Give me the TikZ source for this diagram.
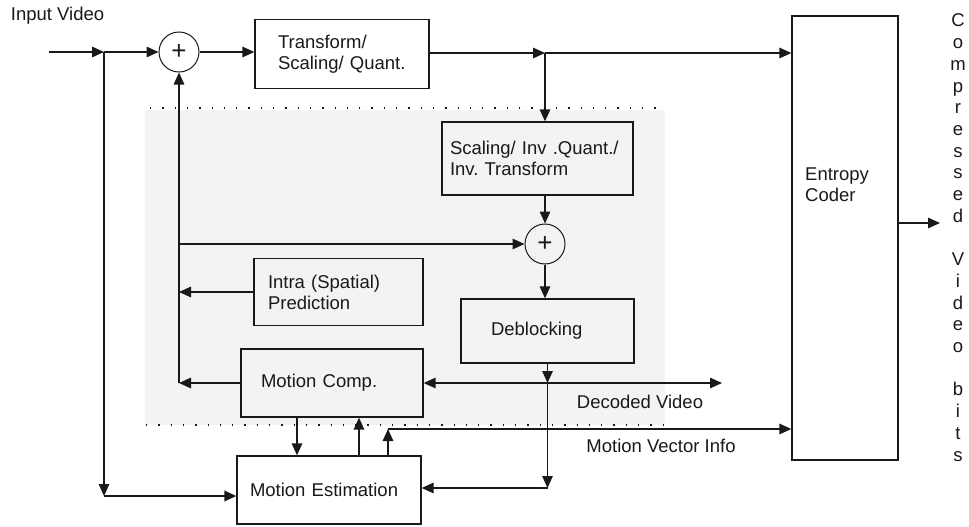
\documentclass[tikz,border=0pt]{standalone}
\usepackage{fontspec}
\setmainfont{Liberation Sans}
\usetikzlibrary{arrows.meta,calc}
\definecolor{bg}{RGB}{243,243,243}
\definecolor{ink}{RGB}{25,25,25}
\frenchspacing
\begin{document}
\begin{tikzpicture}[x=1pt,y=-1pt,
  every node/.style={font=\fontsize{18.5}{21}\selectfont, text=ink},
  blk/.style={draw=ink, line width=1.3pt, align=left, inner ysep=0pt},
  sumnode/.style={draw=ink, line width=1pt, circle, minimum size=40pt, inner sep=0pt, font=\fontsize{26}{26}\selectfont},
  arr/.style={draw=ink, line width=1.4pt, -{Triangle[length=12pt,width=10.5pt]}},
  dotline/.style={draw=ink, line width=1.3pt, dash pattern=on 1.3pt off 11pt}]
\useasboundingbox (0,0) rectangle (969,527);
% shaded decoder region
\fill[bg] (145,110) rectangle (665,425);
\draw[dotline] (150,108) -- (663,108);
\draw[dotline] (146,425) -- (663,425);

% nodes
\node[anchor=center] (inlab) at (57.5,16) {Input Video};
\coordinate (src) at (49,52);
\coordinate (j0) at (104,52);
\coordinate (k1) at (104,496);
\node[sumnode] (c1) at (179,52) {+};
\node[blk, minimum height=69pt, text width=128pt, inner xsep=23pt] (tr) at (342,54) {Transform/\\Scaling/ Quant.};
\coordinate (br) at (545,53);
\node[blk, minimum height=73pt, text width=175pt, inner xsep=8pt] (sc) at (537.5,158.5) {Scaling/ Inv .Quant./\\Inv. Transform};
\node[sumnode] (c2) at (545,244) {+};
\node[blk, minimum height=67pt, text width=141pt, inner xsep=14pt] (in) at (338.5,292) {Intra (Spatial)\\Prediction};
\node[blk, minimum height=64pt, text width=113pt, inner xsep=30pt] (db) at (547.5,331) {Deblocking};
\node[blk, minimum height=68pt, text width=142pt, inner xsep=20pt] (mc) at (332,383) {Motion Comp.};
\node[blk, minimum height=68pt, text width=158pt, inner xsep=13pt] (me) at (329,490) {Motion Estimation};
\node[draw=ink, line width=1.3pt, minimum width=106pt, minimum height=444pt, inner sep=0pt] (ent) at (845,238) {};
\node[anchor=north west, align=left, inner sep=0pt] (entt) at (805,168) {Entropy\\Coder};
\coordinate (j1) at (179,383);
\coordinate (j2) at (547.5,383);
\coordinate (k2) at (547.5,488);
\coordinate (dv) at (722,383);
\coordinate (xa) at (297,0);
\coordinate (xb) at (359,0);
\coordinate (mv) at (388,429);
\coordinate (outy) at (0,223);
\coordinate (out) at (940,223);
\node (dvlab) at (640,402) {Decoded Video};
\node (mvlab) at (661,446) {Motion Vector Info};
\foreach \ch [count=\i] in {C,o,m,p,r,e,s,s,e,d,{},V,i,d,e,o,{},b,i,t,s}
  \node[anchor=base, inner sep=0pt] (L\i) at (958,{27+(\i-1)*21.7}) {\ch};

% connectors
\draw[arr] (src) -- (j0);
\draw[arr] (j0) -- (c1.west);
\draw[arr] (j0) -- (k1);
\draw[arr] (k1) -- (k1 -| me.west);
\draw[arr] (c1.east) -- (c1.east -| tr.west);
\draw[arr] (tr.east |- br) -- (br);
\draw[arr] (br) -- (br -| ent.west);
\draw[arr] (br) -- (br |- sc.north);
\draw[arr] (c2 |- sc.south) -- (c2.north);
\draw[arr] (j1 |- c2) -- (c2.west);
\draw[arr] (c2.south) -- (c2.south |- db.north);
\draw[arr] (j1) -- (c1.south);
\draw[arr] (in.west) -- (in.west -| j1);
\draw[arr] (mc.west) -- (j1);
\draw[arr] (db.south) -- (j2);
\draw[arr] (j2) -- (mc.east);
\draw[arr] (j2) -- (dv);
\draw[arr] (j2) -- (k2);
\draw[arr] (k2) -- (k2 -| me.east);
\draw[arr] (xa |- mc.south) -- (xa |- me.north);
\draw[arr] (xb |- me.north) -- (xb |- mc.south);
\draw[arr] (mv |- me.north) -- (mv);
\draw[arr] (mv) -- (mv -| ent.west);
\draw[arr] (ent.east |- outy) -- (out);
\end{tikzpicture}
\end{document}
